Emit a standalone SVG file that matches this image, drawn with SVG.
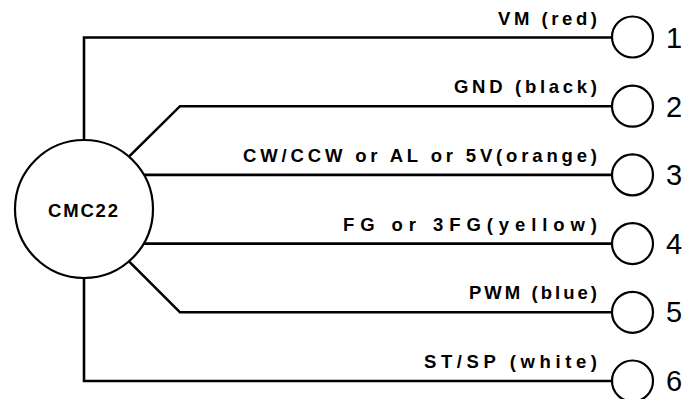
<svg xmlns="http://www.w3.org/2000/svg" width="684" height="399" viewBox="0 0 684 399">
<style>
.w{fill:none;stroke:#000;stroke-width:2.6;stroke-linejoin:miter}
.c{fill:#fff;stroke:#000;stroke-width:2.2}
.lbl{font-family:"Liberation Sans","DejaVu Sans",sans-serif;font-size:18.5px;font-weight:bold;fill:#000;text-anchor:end}
.num{font-family:"Liberation Sans","DejaVu Sans",sans-serif;font-size:29px;fill:#000}
.mc{font-family:"Liberation Sans","DejaVu Sans",sans-serif;font-size:18.5px;font-weight:bold;fill:#000;text-anchor:middle}
</style>
<rect width="684" height="399" fill="#fff"/>
<g id="connectors">
<path class="w" d="M84,140 V37.5 H612"/>
<path class="w" d="M129,156.7 L180,106.2 H612"/>
<path class="w" d="M143.6,174.9 H612"/>
<path class="w" d="M144,243.6 H612"/>
<path class="w" d="M129,261.3 L180,312.3 H612"/>
<path class="w" d="M84,278 V381 H612"/>
</g>
<g id="cmc22">
<circle class="c" cx="84" cy="209" r="69"/>
<text class="mc" x="83" y="216.5" textLength="70" lengthAdjust="spacing">CMC22</text>
</g>
<g id="pin1">
<text class="lbl" x="597" y="24.5" textLength="99" lengthAdjust="spacing">VM (red)</text>
<circle class="c" cx="632.5" cy="37" r="20.5"/>
<text class="num" x="666" y="47.5">1</text>
</g>
<g id="pin2">
<text class="lbl" x="597" y="93.2" textLength="143" lengthAdjust="spacing">GND (black)</text>
<circle class="c" cx="632.5" cy="106.2" r="20.5"/>
<text class="num" x="666" y="116.5">2</text>
</g>
<g id="pin3">
<text class="lbl" x="597" y="161.9" textLength="354" lengthAdjust="spacing">CW/CCW or AL or 5V(orange)</text>
<circle class="c" cx="632.5" cy="174.9" r="20.5"/>
<text class="num" x="666" y="185">3</text>
</g>
<g id="pin4">
<text class="lbl" x="597" y="230.6" textLength="254" lengthAdjust="spacing">FG or 3FG(yellow)</text>
<circle class="c" cx="632.5" cy="243.6" r="20.5"/>
<text class="num" x="666" y="253.7">4</text>
</g>
<g id="pin5">
<text class="lbl" x="597" y="299.3" textLength="128" lengthAdjust="spacing">PWM (blue)</text>
<circle class="c" cx="632.5" cy="312.3" r="20.5"/>
<text class="num" x="666" y="322.4">5</text>
</g>
<g id="pin6">
<text class="lbl" x="597" y="368" textLength="173" lengthAdjust="spacing">ST/SP (white)</text>
<circle class="c" cx="632.5" cy="381" r="20.5"/>
<text class="num" x="666" y="391">6</text>
</g>
</svg>
